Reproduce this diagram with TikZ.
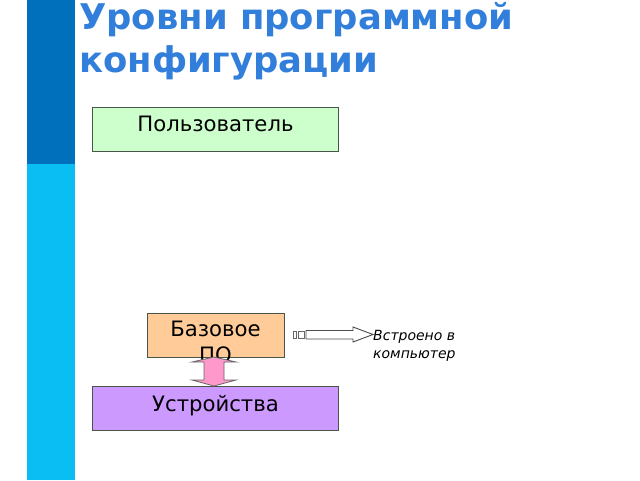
\documentclass[tikz,border=0pt]{standalone}
\usepackage{fontspec}
\setmainfont{DejaVu Sans}
\definecolor{bardark}{HTML}{0070BC}
\definecolor{barlight}{HTML}{0ABEF3}
\definecolor{titleblue}{HTML}{327FDB}
\definecolor{greenbox}{HTML}{CCFFCC}
\definecolor{orangebox}{HTML}{FFCC99}
\definecolor{violetbox}{HTML}{CC99FF}
\definecolor{pinkarrow}{HTML}{FF99CC}
\definecolor{boxline}{HTML}{4A554A}
\tikzset{
  x=1pt,y=-1pt,
  levelbox/.style={draw=boxline,line width=1.4pt,minimum height=44pt,inner sep=0pt,anchor=north west,text depth=0pt},
  boxtext/.style={font=\fontsize{21.2}{25.5}\selectfont,align=center,anchor=north},
  titletext/.style={font=\fontsize{35.4}{44}\selectfont\bfseries,text=titleblue,anchor=base west,inner sep=0pt},
  notetext/.style={font=\fontsize{14}{18.5}\selectfont\itshape,align=left,anchor=north west,inner sep=0pt},
  tinyrect/.style={draw=black!60,fill=white,line width=0.8pt}
}
\begin{document}
\begin{tikzpicture}
\useasboundingbox (0,0) rectangle (640,480);
\fill[barlight] (27,0) rectangle (75,480);
\fill[bardark] (27,0) rectangle (75,164);
\node[titletext] (title1) at (79,29) {Уровни программной};
\node[titletext] (title2) at (79,72) {конфигурации};
\node[levelbox,fill=greenbox,minimum width=246pt] (user) at (92,107) {};
\node[boxtext] (usertext) at (215.5,113) {Пользователь};
\node[levelbox,fill=orangebox,minimum width=137pt] (base) at (147,312.5) {};
\node[boxtext] (basetext) at (215.5,318) {Базовое\\ПО};
\node[levelbox,fill=violetbox,minimum width=246pt] (dev) at (92,386) {};
\node[boxtext] (devtext) at (215.5,392) {Устройства};
\draw[black!60,fill=pinkarrow,line width=0.8pt] (214,357) -- (236,362) -- (224,362) -- (224,380) -- (236,380) -- (214,386) -- (192,380) -- (204,380) -- (204,362) -- (192,362) -- cycle;
\draw[tinyrect] (293,331) rectangle (296,338);
\draw[tinyrect] (298,331) rectangle (304,338);
\draw[black!70,fill=white,line width=0.9pt] (306,330.5) -- (353,330.5) -- (353,327) -- (373,334.5) -- (353,342) -- (353,339) -- (306,339) -- cycle;
\node[notetext] (note) at (373,330) {Встроено в\\компьютер};
\end{tikzpicture}
\end{document}
